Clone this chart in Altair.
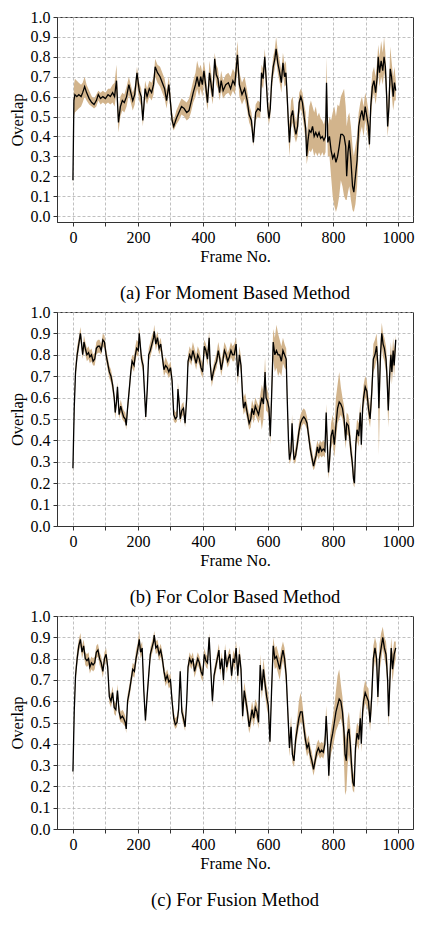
import altair as alt
import pandas as pd

# ---------------- (a) Moment based ----------------
frames_a = [0,3,6,12,18,25,30,36,42,50,58,65,72,78,85,92,100,108,115,122,128,134,140,146,152,158,165,172,178,184,190,197,204,210,215,222,228,235,242,248,253,260,268,275,282,288,295,300,305,310,318,326,334,342,350,357,363,370,377,382,388,393,398,403,408,414,420,425,430,436,441,446,451,456,462,470,478,485,492,498,506,512,520,528,536,542,549,555,562,569,576,580,585,590,594,599,603,607,611,616,621,625,630,636,641,646,651,655,659,663,666,671,676,681,686,691,696,701,706,711,716,719,723,727,732,737,742,747,752,757,762,767,772,777,780,784,789,794,799,804,809,814,819,824,829,834,839,842,846,850,855,860,864,869,874,879,884,889,894,899,904,909,912,916,921,926,931,936,939,943,948,953,957,961,965,968,972,976,980,985,989,993]
mean_a = [0.18,0.58,0.61,0.60,0.61,0.60,0.62,0.65,0.62,0.59,0.57,0.56,0.58,0.61,0.59,0.60,0.59,0.61,0.60,0.62,0.60,0.68,0.47,0.55,0.58,0.57,0.60,0.66,0.62,0.58,0.61,0.72,0.63,0.60,0.48,0.64,0.60,0.64,0.62,0.66,0.75,0.72,0.70,0.67,0.64,0.58,0.66,0.57,0.48,0.45,0.49,0.52,0.55,0.54,0.52,0.53,0.57,0.62,0.66,0.70,0.65,0.70,0.66,0.73,0.66,0.57,0.72,0.66,0.60,0.79,0.71,0.69,0.62,0.68,0.63,0.66,0.67,0.64,0.68,0.66,0.81,0.66,0.61,0.64,0.58,0.51,0.48,0.37,0.52,0.54,0.53,0.72,0.69,0.80,0.70,0.55,0.49,0.54,0.67,0.75,0.79,0.84,0.77,0.72,0.67,0.77,0.70,0.72,0.60,0.46,0.37,0.50,0.53,0.45,0.41,0.45,0.57,0.60,0.57,0.50,0.44,0.30,0.38,0.43,0.42,0.45,0.40,0.42,0.40,0.42,0.39,0.40,0.38,0.40,0.67,0.37,0.40,0.33,0.29,0.31,0.27,0.30,0.35,0.41,0.41,0.40,0.35,0.20,0.32,0.38,0.28,0.15,0.12,0.20,0.28,0.45,0.50,0.53,0.48,0.55,0.50,0.45,0.36,0.55,0.65,0.68,0.62,0.70,0.80,0.72,0.78,0.73,0.80,0.75,0.60,0.45,0.55,0.74,0.70,0.60,0.67,0.63]
low_a = [0.13,0.50,0.52,0.53,0.54,0.55,0.57,0.60,0.58,0.56,0.55,0.54,0.55,0.58,0.56,0.57,0.56,0.57,0.56,0.57,0.55,0.62,0.42,0.50,0.53,0.52,0.55,0.61,0.57,0.53,0.56,0.66,0.58,0.55,0.45,0.59,0.56,0.60,0.58,0.61,0.70,0.67,0.65,0.62,0.59,0.54,0.62,0.53,0.45,0.43,0.46,0.48,0.51,0.50,0.48,0.49,0.52,0.57,0.60,0.64,0.60,0.64,0.60,0.67,0.60,0.53,0.66,0.61,0.56,0.72,0.66,0.64,0.58,0.63,0.59,0.61,0.62,0.60,0.63,0.61,0.73,0.60,0.56,0.59,0.53,0.47,0.44,0.35,0.48,0.50,0.49,0.66,0.64,0.74,0.65,0.50,0.46,0.50,0.62,0.70,0.74,0.79,0.72,0.67,0.62,0.71,0.65,0.66,0.54,0.40,0.30,0.44,0.47,0.40,0.37,0.40,0.51,0.54,0.51,0.44,0.38,0.26,0.30,0.33,0.32,0.34,0.30,0.32,0.30,0.32,0.30,0.32,0.30,0.32,0.55,0.30,0.30,0.20,0.10,0.05,0.02,0.05,0.10,0.18,0.15,0.10,0.08,0.08,0.12,0.15,0.08,0.03,0.02,0.06,0.15,0.35,0.42,0.45,0.40,0.48,0.43,0.38,0.33,0.48,0.58,0.62,0.56,0.63,0.72,0.65,0.70,0.66,0.72,0.68,0.52,0.40,0.48,0.66,0.62,0.53,0.58,0.58]
high_a = [0.22,0.66,0.69,0.68,0.67,0.66,0.67,0.70,0.66,0.63,0.60,0.59,0.61,0.63,0.62,0.63,0.62,0.64,0.64,0.66,0.67,0.76,0.52,0.60,0.62,0.61,0.65,0.70,0.66,0.62,0.65,0.75,0.67,0.64,0.52,0.68,0.64,0.68,0.67,0.70,0.79,0.76,0.75,0.72,0.69,0.63,0.70,0.61,0.52,0.48,0.53,0.56,0.59,0.58,0.57,0.59,0.63,0.68,0.72,0.78,0.74,0.76,0.72,0.78,0.72,0.62,0.78,0.72,0.66,0.82,0.76,0.74,0.67,0.73,0.68,0.71,0.72,0.70,0.74,0.72,0.88,0.72,0.67,0.70,0.63,0.56,0.52,0.42,0.56,0.58,0.57,0.76,0.74,0.84,0.75,0.60,0.54,0.60,0.72,0.80,0.84,0.90,0.83,0.78,0.73,0.82,0.76,0.78,0.66,0.52,0.46,0.58,0.60,0.52,0.47,0.52,0.62,0.64,0.62,0.56,0.52,0.38,0.47,0.55,0.58,0.55,0.52,0.55,0.50,0.52,0.49,0.48,0.46,0.50,0.80,0.45,0.50,0.48,0.52,0.55,0.50,0.56,0.55,0.60,0.62,0.64,0.55,0.45,0.50,0.52,0.45,0.35,0.30,0.35,0.40,0.52,0.57,0.60,0.55,0.62,0.58,0.53,0.45,0.62,0.72,0.75,0.70,0.78,0.86,0.80,0.88,0.82,0.90,0.82,0.68,0.55,0.65,0.85,0.78,0.70,0.75,0.68]

# ---------------- (b) Color based ----------------
frames_b = [0,4,8,13,18,23,26,30,34,38,43,48,52,57,62,67,72,77,82,87,92,97,102,107,112,117,122,127,130,134,137,142,147,152,156,161,164,168,174,178,182,188,192,196,201,204,208,211,216,221,224,229,233,238,243,248,250,255,260,265,270,275,280,285,290,295,300,305,310,315,320,323,327,330,335,340,345,350,354,359,364,369,374,379,384,389,394,399,404,409,414,419,422,427,432,437,442,447,452,456,461,466,471,476,481,486,491,496,502,507,512,517,522,525,530,537,542,547,551,556,561,566,571,576,581,586,591,594,599,603,607,611,616,621,626,631,636,641,646,651,656,659,663,666,671,674,678,680,685,690,695,700,705,710,715,720,725,730,735,740,743,748,752,756,760,765,770,775,779,782,786,789,794,799,804,809,814,819,824,829,834,839,842,847,851,855,859,863,866,870,874,879,884,887,891,894,899,904,909,914,919,924,929,934,938,941,946,950,954,958,963,966,970,974,978,981,985,988,993]
mean_b = [.27,.55,.72,.80,.85,.90,.86,.80,.86,.83,.80,.81,.79,.80,.77,.78,.83,.84,.84,.82,.87,.86,.80,.76,.72,.70,.66,.60,.53,.58,.65,.52,.56,.53,.51,.50,.47,.55,.65,.72,.77,.75,.80,.83,.82,.90,.83,.78,.75,.60,.51,.65,.80,.82,.85,.88,.91,.85,.88,.83,.85,.79,.73,.75,.74,.72,.74,.68,.52,.50,.51,.64,.57,.50,.54,.55,.48,.60,.77,.80,.78,.82,.79,.76,.80,.78,.74,.72,.84,.82,.78,.88,.76,.68,.72,.75,.77,.82,.78,.73,.77,.82,.80,.77,.79,.82,.80,.80,.85,.70,.80,.75,.60,.55,.58,.52,.48,.50,.55,.52,.56,.54,.52,.56,.60,.57,.72,.60,.58,.55,.42,.60,.86,.80,.82,.80,.80,.77,.82,.80,.78,.60,.40,.31,.35,.48,.35,.31,.33,.38,.44,.48,.50,.51,.50,.48,.42,.36,.32,.28,.30,.33,.37,.34,.37,.35,.36,.35,.53,.40,.25,.30,.42,.45,.38,.47,.55,.58,.57,.55,.50,.40,.48,.47,.42,.35,.30,.22,.20,.38,.45,.42,.53,.38,.55,.60,.65,.63,.55,.50,.62,.78,.80,.84,.75,.55,.80,.90,.85,.83,.78,.70,.54,.70,.80,.72,.82,.75,.87]
low_b = [.23,.50,.68,.77,.82,.87,.83,.78,.83,.80,.77,.78,.76,.77,.75,.75,.80,.81,.81,.80,.84,.83,.77,.73,.69,.67,.63,.57,.50,.55,.62,.50,.53,.50,.49,.48,.45,.52,.62,.69,.74,.72,.77,.80,.79,.86,.79,.75,.72,.57,.49,.62,.77,.79,.82,.85,.88,.82,.85,.80,.82,.76,.70,.72,.71,.69,.71,.65,.49,.48,.49,.61,.54,.48,.51,.52,.46,.57,.74,.77,.75,.79,.76,.73,.77,.75,.71,.69,.81,.79,.75,.85,.73,.65,.69,.72,.74,.79,.75,.70,.74,.79,.77,.74,.76,.79,.77,.77,.81,.66,.76,.71,.56,.52,.54,.49,.45,.46,.51,.48,.52,.50,.48,.51,.45,.50,.66,.54,.53,.50,.38,.55,.78,.72,.74,.70,.72,.70,.76,.74,.73,.55,.36,.29,.31,.43,.31,.29,.30,.35,.40,.45,.47,.48,.47,.45,.39,.33,.29,.26,.27,.30,.33,.31,.33,.32,.33,.32,.46,.35,.22,.26,.36,.39,.32,.40,.48,.50,.52,.50,.45,.36,.43,.42,.37,.31,.26,.19,.18,.33,.40,.37,.48,.35,.50,.55,.60,.58,.50,.46,.56,.72,.74,.78,.68,.33,.72,.84,.79,.77,.72,.64,.46,.63,.74,.66,.75,.70,.82]
high_b = [.30,.60,.76,.84,.88,.93,.89,.83,.89,.86,.83,.84,.82,.83,.80,.81,.86,.87,.87,.85,.90,.89,.83,.79,.75,.73,.69,.63,.56,.61,.67,.55,.59,.56,.54,.53,.50,.58,.68,.75,.80,.79,.84,.87,.86,.93,.86,.81,.78,.63,.54,.68,.83,.86,.89,.91,.94,.88,.91,.86,.88,.82,.76,.79,.77,.75,.77,.71,.55,.53,.54,.67,.60,.53,.57,.58,.51,.63,.80,.84,.82,.86,.83,.80,.84,.82,.78,.76,.87,.85,.82,.91,.80,.71,.75,.78,.81,.86,.82,.77,.81,.86,.84,.81,.83,.86,.84,.85,.88,.75,.84,.79,.65,.60,.62,.56,.52,.54,.59,.56,.60,.58,.56,.61,.66,.63,.79,.66,.63,.60,.48,.68,.92,.88,.94,.90,.87,.84,.88,.85,.83,.66,.45,.35,.40,.52,.40,.34,.37,.42,.48,.52,.54,.55,.54,.51,.46,.40,.36,.31,.33,.37,.40,.38,.40,.39,.40,.39,.57,.45,.30,.36,.48,.52,.46,.60,.66,.72,.65,.60,.56,.46,.53,.52,.48,.40,.35,.27,.24,.43,.50,.48,.58,.45,.60,.66,.70,.68,.60,.56,.68,.85,.87,.90,.82,.62,.87,.95,.90,.88,.84,.77,.62,.77,.86,.79,.88,.82,.89]

# ---------------- (c) Fusion ----------------
frames_c = [0,4,8,13,18,23,28,33,38,43,48,52,57,62,67,72,77,82,87,92,97,102,107,112,117,122,127,132,137,142,147,152,156,161,164,168,174,179,184,189,194,199,204,208,213,218,223,228,233,238,243,248,250,255,260,265,270,275,280,285,290,295,300,305,310,315,320,325,330,335,340,345,350,354,359,364,369,374,379,384,389,394,399,404,409,414,419,424,429,434,439,444,449,453,458,463,468,473,478,483,488,493,497,502,507,512,517,522,527,532,537,542,547,551,556,561,566,571,576,581,586,591,596,601,606,611,616,621,626,631,636,641,646,651,656,661,666,671,675,680,685,690,695,700,705,710,715,720,725,730,735,740,745,750,755,760,765,770,775,779,784,787,791,795,799,804,809,814,819,824,829,834,837,841,845,849,853,857,861,865,869,874,879,884,887,891,894,899,904,909,914,919,924,929,934,938,943,948,953,958,963,968,971,975,979,983,988,993]
mean_c = [.27,.55,.72,.80,.86,.89,.83,.86,.80,.79,.80,.76,.78,.77,.78,.83,.84,.80,.78,.74,.80,.82,.76,.62,.60,.64,.57,.56,.65,.55,.52,.53,.52,.50,.47,.60,.65,.70,.75,.74,.80,.84,.89,.83,.85,.65,.51,.62,.72,.82,.85,.88,.91,.85,.86,.82,.84,.80,.74,.70,.72,.69,.70,.60,.52,.49,.50,.56,.74,.55,.52,.48,.60,.76,.80,.78,.80,.74,.77,.80,.78,.74,.72,.82,.79,.78,.90,.75,.60,.72,.76,.80,.84,.75,.80,.70,.84,.76,.80,.82,.72,.80,.78,.85,.72,.82,.75,.53,.65,.60,.55,.48,.52,.56,.52,.57,.55,.50,.77,.65,.75,.68,.62,.58,.41,.65,.86,.80,.81,.78,.75,.80,.84,.80,.72,.55,.38,.48,.35,.32,.42,.47,.52,.55,.55,.48,.42,.38,.40,.35,.32,.28,.32,.36,.38,.36,.37,.36,.40,.53,.38,.25,.38,.42,.45,.50,.55,.58,.61,.60,.55,.45,.35,.32,.45,.47,.40,.30,.22,.20,.38,.45,.42,.52,.40,.55,.60,.64,.62,.60,.50,.62,.80,.85,.80,.62,.80,.85,.90,.85,.82,.70,.53,.70,.85,.75,.82,.85]
low_c = [.23,.50,.68,.77,.83,.86,.80,.83,.77,.76,.77,.73,.75,.74,.75,.80,.81,.77,.75,.71,.77,.79,.73,.59,.57,.61,.54,.53,.62,.52,.50,.50,.49,.48,.45,.57,.62,.67,.72,.71,.77,.81,.86,.80,.82,.62,.49,.59,.69,.79,.82,.85,.88,.82,.83,.79,.81,.77,.71,.67,.69,.66,.67,.57,.49,.47,.48,.53,.70,.52,.49,.46,.57,.73,.77,.75,.77,.71,.74,.77,.75,.71,.69,.79,.76,.75,.87,.72,.57,.69,.73,.77,.81,.72,.77,.67,.81,.73,.77,.79,.69,.77,.74,.81,.68,.78,.71,.50,.61,.56,.51,.45,.48,.52,.48,.53,.51,.47,.72,.61,.70,.63,.57,.53,.38,.60,.80,.75,.76,.73,.70,.75,.79,.75,.67,.50,.34,.43,.31,.29,.38,.43,.48,.50,.50,.44,.38,.34,.36,.31,.29,.25,.29,.33,.35,.33,.34,.33,.36,.47,.34,.22,.33,.36,.38,.42,.46,.48,.50,.52,.48,.30,.16,.18,.30,.35,.30,.22,.18,.17,.33,.40,.37,.47,.36,.50,.55,.59,.57,.55,.46,.56,.74,.79,.74,.57,.74,.79,.85,.80,.76,.64,.48,.63,.78,.69,.76,.80]
high_c = [.30,.60,.76,.84,.89,.92,.86,.89,.83,.82,.83,.79,.81,.80,.81,.86,.87,.83,.81,.77,.83,.85,.79,.65,.63,.67,.60,.59,.68,.58,.55,.56,.55,.53,.50,.63,.68,.73,.78,.77,.84,.87,.93,.86,.88,.69,.54,.65,.75,.85,.88,.91,.93,.88,.89,.85,.87,.83,.77,.73,.75,.72,.73,.63,.55,.52,.53,.59,.76,.58,.55,.51,.63,.79,.83,.81,.83,.77,.80,.83,.81,.77,.75,.85,.82,.81,.92,.78,.64,.75,.79,.83,.87,.78,.83,.73,.87,.79,.83,.85,.75,.84,.82,.88,.77,.86,.79,.58,.69,.64,.59,.52,.56,.60,.56,.61,.59,.54,.82,.70,.80,.73,.67,.63,.46,.70,.90,.85,.86,.83,.80,.85,.88,.85,.77,.60,.43,.53,.40,.36,.47,.52,.60,.64,.60,.53,.47,.42,.44,.39,.36,.31,.36,.40,.42,.40,.41,.40,.44,.58,.43,.30,.44,.48,.52,.58,.65,.72,.75,.68,.62,.52,.45,.42,.52,.55,.48,.38,.28,.25,.44,.50,.48,.58,.46,.60,.66,.70,.67,.66,.56,.68,.86,.90,.87,.70,.87,.92,.95,.90,.88,.78,.60,.78,.90,.82,.88,.88]

captions = ["(a) For Moment Based Method", "(b) For Color Based Method", "(c) For Fusion Method"]
x_ticks = list(range(0, 1001, 100))
y_ticks = [round(i / 10, 1) for i in range(0, 11)]

FONT = "Liberation Serif, DejaVu Serif, serif"
BAND = "#d2b48c"
SPINE = "#333333"


def panel(frames, mean, low, high, caption, ydom, height):
    df = pd.DataFrame({"frame": frames, "mean": mean, "low": low, "high": high})
    xaxis = alt.Axis(
        values=x_ticks,
        format="d",
        labelExpr="datum.value % 200 == 0 ? datum.label : ''",
        title="Frame No.",
        labelOverlap=False,
    )
    xscale = alt.Scale(domain=[-49, 1046], nice=False, zero=False)
    yaxis = alt.Axis(values=y_ticks, format=".1f", title="Overlap", labelOverlap=False)
    yscale = alt.Scale(domain=ydom, nice=False, zero=False)
    band = alt.Chart(df).mark_area(color=BAND, opacity=1).encode(
        x=alt.X("frame:Q", scale=xscale, axis=xaxis),
        y=alt.Y("low:Q", scale=yscale, axis=yaxis),
        y2="high:Q",
    )
    line = alt.Chart(df).mark_line(color="black", strokeWidth=1.3).encode(
        x=alt.X("frame:Q", scale=xscale, axis=xaxis),
        y=alt.Y("mean:Q", scale=yscale, axis=yaxis),
    )
    return alt.layer(band, line).properties(
        width=356,
        height=height,
        title=alt.TitleParams(caption, orient="bottom", anchor="middle", offset=19),
    )


p1 = panel(frames_a, mean_a, low_a, high_a, captions[0], [-0.03, 1.0], 205)
p2 = panel(frames_b, mean_b, low_b, high_b, captions[1], [0.0, 1.0], 214)
p3 = panel(frames_c, mean_c, low_c, high_c, captions[2], [0.0, 1.0], 213)

chart = (
    alt.vconcat(p1, p2, p3, spacing=0)
    .properties(padding=0, background="white")
    .configure_view(stroke=SPINE, strokeWidth=1)
    .configure_axis(
        labelFont=FONT,
        titleFont=FONT,
        labelFontSize=16,
        titleFontSize=16.5,
        labelColor="black",
        titleColor="black",
        titleFontWeight="normal",
        domainColor=SPINE,
        tickColor=SPINE,
        tickSize=4,
        labelPadding=3,
        grid=True,
        gridColor="#b0b0b0",
        gridDash=[3, 2],
        gridWidth=0.8,
    )
    .configure_axisX(titlePadding=3)
    .configure_axisY(titlePadding=5)
    .configure_title(font=FONT, fontSize=18.5, fontWeight="normal", color="black")
)

chart.save("out.html", embed_options={"renderer": "svg", "actions": False})
